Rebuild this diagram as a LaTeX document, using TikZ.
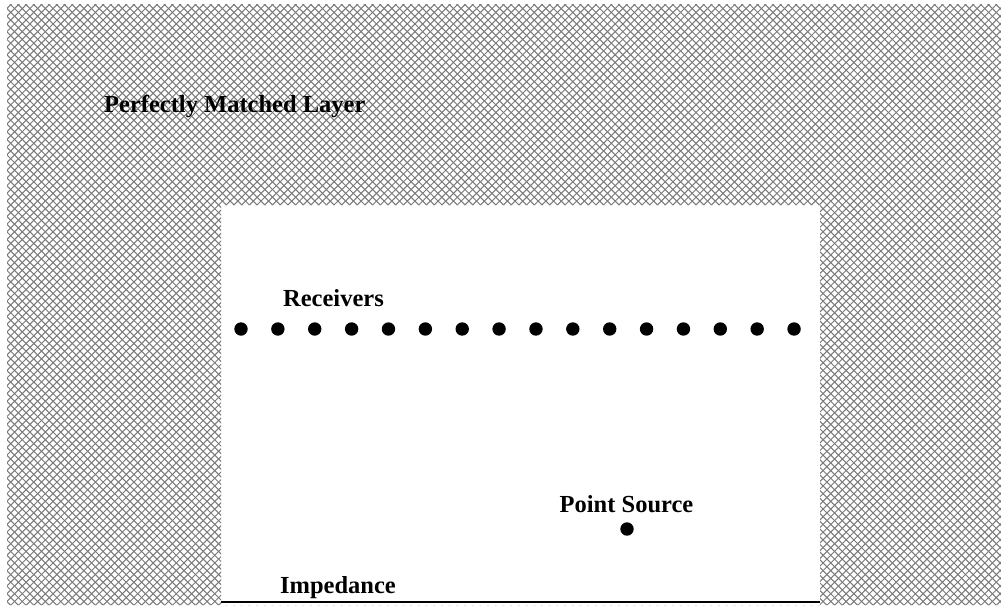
\documentclass[tikz,border=0pt]{standalone}
\usepackage{fontspec}
\setmainfont{Liberation Serif}
\tikzset{
  hatchline/.style={draw=black!52, line width=1pt},
  label/.style={font=\bfseries\fontsize{24.5}{28}\selectfont, inner sep=0pt},
  dot/.style={circle, fill=black, inner sep=0pt, minimum size=13.4pt},
  ground/.style={draw=black, line width=2.2pt},
}
\begin{document}
\begin{tikzpicture}[x=1pt, y=-1pt]
  \useasboundingbox (0,0) rectangle (1001,605);
  \fill[white] (0,0) rectangle (1001,605);

  % absorbing layer: cross-hatched frame around the open domain
  \begin{scope}[even odd rule]
    \clip (7,4) rectangle (1001,605) (221,205) rectangle (820,605);
    \foreach \c in {0,7.7,...,1620} {
      \draw[hatchline] (\c,0) -- ({\c-610},610);
    }
    \foreach \c in {-610,-602.3,...,1010} {
      \draw[hatchline] (\c,0) -- ({\c+610},610);
    }
  \end{scope}

  % impedance boundary at the bottom of the domain
  \coordinate (gl) at (221,602);
  \coordinate (gr) at (820,602);
  \draw[ground] (gl) -- (gr);

  % labels
  \node[label, anchor=base west] (pml) at (104,112) {Perfectly Matched Layer};
  \node[label, anchor=base] (rec) at (333.5,306) {Receivers};
  \node[label, anchor=base] (src) at (626.5,512) {Point Source};
  \node[label, anchor=base] (imp) at (338,593) {Impedance};

  % receiver array
  \foreach \i in {0,...,15} {
    \node[dot] (r\i) at ({241+\i*36.87},329) {};
  }

  % source
  \node[dot] (s) at (627,529) {};
\end{tikzpicture}
\end{document}
